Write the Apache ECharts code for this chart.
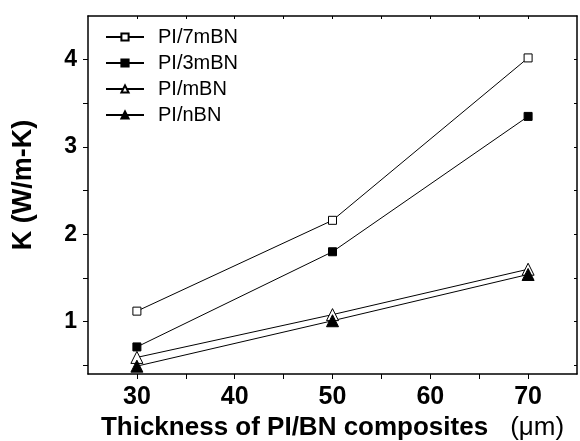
<!DOCTYPE html>
<html>
<head>
<meta charset="utf-8">
<script src="https://cdn.jsdelivr.net/npm/echarts@6/dist/echarts.min.js"></script>
<style>
  html, body { margin: 0; padding: 0; background: #fff; }
  #chart { width: 580px; height: 441px; }
</style>
</head>
<body>
<div id="chart"></div>
<script>
// --- données --- //
const thickness = [30, 50, 70];
const pi7mBN = [1.12, 2.16, 4.02];
const pi3mBN = [0.71, 1.80, 3.35];
const piMBN = [0.59, 1.08, 1.60];
const piNBN = [0.49, 1.01, 1.54];

const xTicks = [30, 35, 40, 45, 50, 55, 60, 65, 70];
const xLabels = [30, 40, 50, 60, 70];
const yTicks = [0.5, 1, 1.5, 2, 2.5, 3, 3.5, 4];
const yLabels = [1, 2, 3, 4];

const font = 'Liberation Sans, Arial, sans-serif';

function pairs(ys) {
  return thickness.map((x, i) => [x, ys[i]]);
}

function mkSeries(name, ys, symbol, size, filled) {
  return {
    name: name,
    type: 'line',
    data: pairs(ys),
    symbol: symbol,
    symbolSize: size,
    showAllSymbol: true,
    lineStyle: { color: '#000', width: 1 },
    itemStyle: {
      color: filled ? '#000' : '#fff',
      borderColor: '#000',
      borderWidth: 1
    },
    emphasis: { disabled: true },
    animation: false
  };
}

const axisLine = { show: true, lineStyle: { color: '#000', width: 1.5 } };

let option = {
  backgroundColor: '#fff',
  animation: false,
  grid: { left: 88, right: 3, top: 16, bottom: 67, outerBoundsMode: 'none', containLabel: false },
  legend: {
    left: 100,
    top: 22,
    orient: 'vertical',
    itemGap: 6,
    itemWidth: 38,
    itemHeight: 9,
    textStyle: { fontFamily: font, fontSize: 20, color: '#000', padding: [0, 0, 0, 9] },
    data: ['PI/7mBN', 'PI/3mBN', 'PI/mBN', 'PI/nBN']
  },
  xAxis: [
    {
      type: 'value',
      min: 25,
      max: 75,
      axisLine: axisLine,
      axisTick: { show: true, customValues: xTicks, length: 5, lineStyle: { color: '#000' } },
      axisLabel: {
        customValues: xLabels,
        fontFamily: font, fontSize: 25, fontWeight: 'bold', color: '#000', margin: 11
      },
      splitLine: { show: false },
      name: '{b|Thickness of PI/BN composites}{s|}{n|(\u03bcm)}',
      nameLocation: 'middle',
      nameGap: 38,
      nameTextStyle: {
        rich: {
          b: { fontFamily: font, fontSize: 26, fontWeight: 'bold', color: '#000' },
          s: { width: 22, fontSize: 26 },
          n: { fontFamily: font, fontSize: 26, color: '#000' }
        }
      }
    },
    {
      type: 'value',
      position: 'top',
      min: 25,
      max: 75,
      axisLine: axisLine,
      axisTick: { show: true, inside: true, customValues: xTicks, length: 3, lineStyle: { color: '#000' } },
      axisLabel: { show: false },
      splitLine: { show: false }
    }
  ],
  yAxis: [
    {
      type: 'value',
      min: 0.4,
      max: 4.5,
      axisLine: axisLine,
      axisTick: { show: true, customValues: yTicks, length: 5, lineStyle: { color: '#000' } },
      axisLabel: {
        customValues: yLabels,
        fontFamily: font, fontSize: 23, fontWeight: 'bold', color: '#000', margin: 11
      },
      splitLine: { show: false },
      name: 'K (W/m-K)',
      nameLocation: 'middle',
      nameGap: 51,
      nameTextStyle: { fontFamily: font, fontSize: 27, fontWeight: 'bold', color: '#000', padding: [0, 0, 0, 20] }
    },
    {
      type: 'value',
      position: 'right',
      min: 0.4,
      max: 4.5,
      axisLine: axisLine,
      axisTick: { show: true, inside: true, customValues: yTicks, length: 3, lineStyle: { color: '#000' } },
      axisLabel: { show: false },
      splitLine: { show: false }
    }
  ],
  series: [
    mkSeries('PI/7mBN', pi7mBN, 'rect', 8, false),
    mkSeries('PI/3mBN', pi3mBN, 'rect', 8, true),
    mkSeries('PI/mBN', piMBN, 'triangle', 12, false),
    mkSeries('PI/nBN', piNBN, 'triangle', 12, true)
  ]
};

const chart = echarts.init(document.getElementById('chart'), null, { renderer: 'canvas' });
chart.setOption(option);
</script>
</body>
</html>
